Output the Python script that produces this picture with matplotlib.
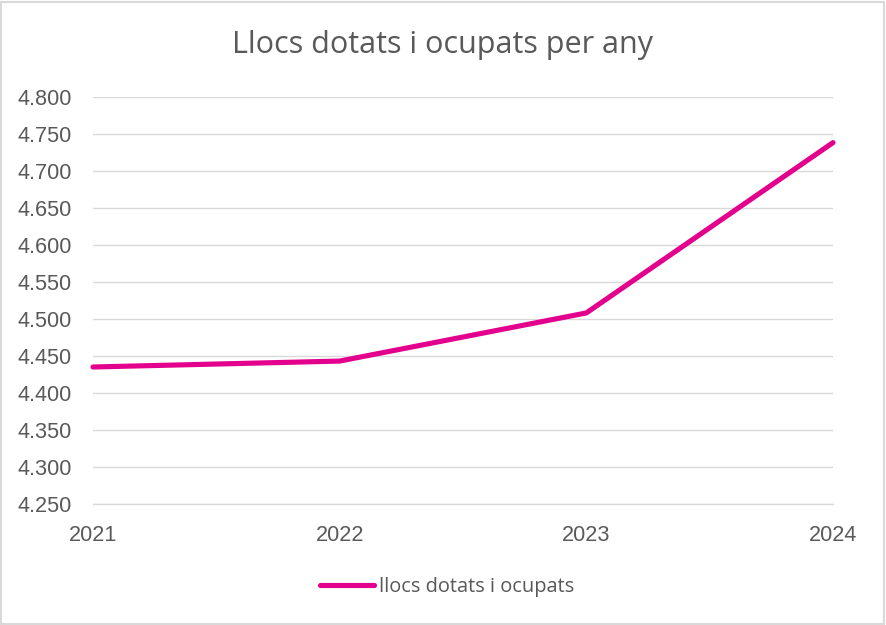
import matplotlib
matplotlib.use("Agg")
import matplotlib.pyplot as plt
from matplotlib.patches import Rectangle
from matplotlib.ticker import FuncFormatter, MultipleLocator

years = ["2021", "2022", "2023", "2024"]
values = [4435, 4443, 4508, 4738]
series_name = "llocs dotats i ocupats"
title = "Llocs dotats i ocupats per any"

W, H = 886, 625
fig = plt.figure(figsize=(W / 100, H / 100), dpi=100)
fig.patch.set_facecolor("white")

ax = fig.add_axes([93 / W, 1 - 504 / H, (833 - 93) / W, (504 - 96.7) / H])
x = list(range(len(years)))
line, = ax.plot(x, values, color="#E3008C", lw=3.7, solid_capstyle="round",
                solid_joinstyle="round", clip_on=False, zorder=3)
ax.set_xlim(0, len(years) - 1)
ax.set_ylim(4250, 4800)
ax.yaxis.set_major_locator(MultipleLocator(50))
ax.yaxis.set_major_formatter(FuncFormatter(lambda v, p: f"{int(round(v)):,}".replace(",", ".")))
ax.set_xticks(x)
ax.set_xticklabels(years)
ax.grid(axis="y", color="#D9D9D9", lw=1.0)
ax.set_axisbelow(True)
for s in ["top", "right", "left"]:
    ax.spines[s].set_visible(False)
ax.spines["bottom"].set_color("#D9D9D9")
ax.spines["bottom"].set_linewidth(1.0)
ax.tick_params(axis="both", length=0, colors="#595959", labelsize=15.6,
               labelfontfamily="Liberation Sans")
ax.tick_params(axis="y", pad=15.5)
ax.tick_params(axis="x", pad=15)

fig.text(0.5, 1 - 53.5 / H, title, ha="center", va="baseline", fontsize=22,
         color="#595959", family="Open Sans")

leg = fig.legend([line], [series_name], loc="center", bbox_to_anchor=(447 / W, 1 - 587 / H),
                 frameon=False, handlelength=2.7, handletextpad=0.25,
                 prop={"family": "Open Sans", "size": 14.4})
for t in leg.get_texts():
    t.set_color("#595959")

fig.patches.append(Rectangle((1 / W, 1 / H), (W - 3) / W, (H - 3) / H, transform=fig.transFigure,
                             fill=False, edgecolor="#D9D9D9", lw=1.5))

fig.savefig("out.png", dpi=100, facecolor="white")
